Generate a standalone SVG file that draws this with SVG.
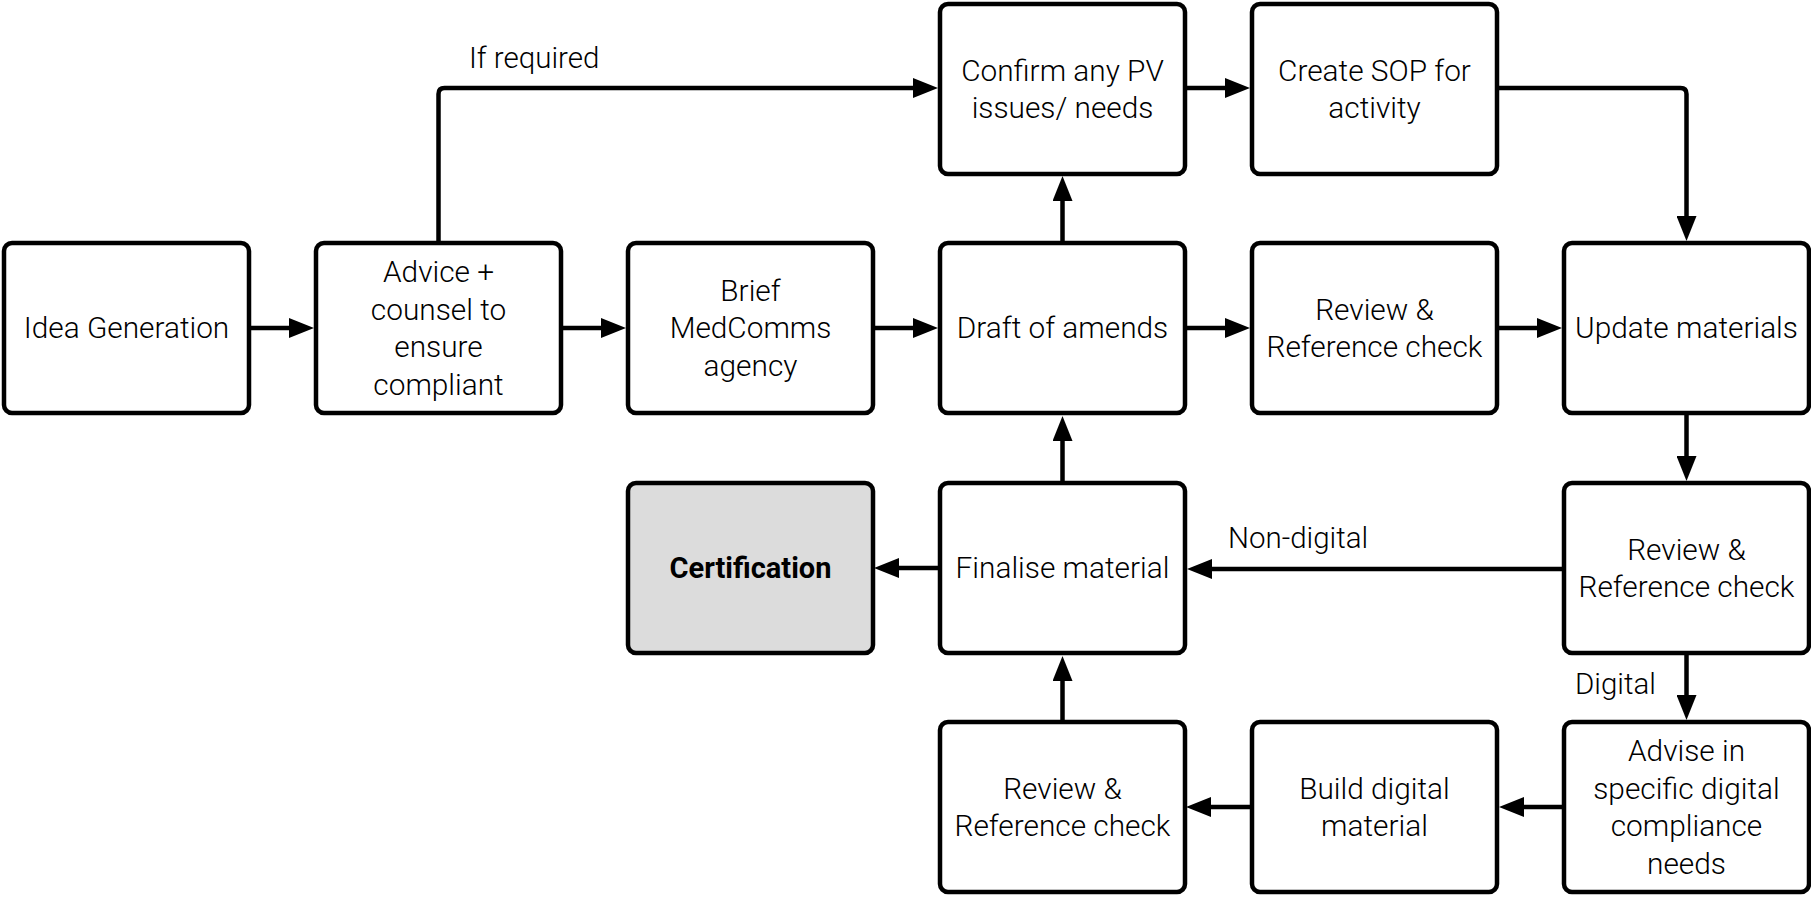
<svg xmlns="http://www.w3.org/2000/svg" width="1811" height="897" viewBox="0 0 1811 897">
<style>
.box{fill:#fff;stroke:#000;stroke-width:4.5}
.cert{fill:#dcdcdc;stroke:#000;stroke-width:4.5}
.t{font-family:Roboto,"Liberation Sans",Arial,sans-serif;font-weight:300;font-size:29.8px;fill:#000;text-anchor:middle}
.b{font-weight:700;font-size:29px}
.lbl{font-family:Roboto,"Liberation Sans",Arial,sans-serif;font-weight:300;font-size:29.5px;fill:#000}
.e{fill:none;stroke:#000;stroke-width:4.5;marker-end:url(#ah)}
</style>
<defs>
<marker id="ah" markerUnits="userSpaceOnUse" viewBox="0 0 25 20" refX="4" refY="10" markerWidth="25" markerHeight="20" orient="auto">
<path d="M0,0 L25,10 L0,20 Z" fill="#000"/>
</marker>
</defs>
<rect width="1811" height="897" fill="#fff"/>
<g id="connectors">
<path class="e" d="M248,328 H293"/>
<path class="e" d="M560,328 H605"/>
<path class="e" d="M872,328 H917"/>
<path class="e" d="M1184,328 H1229"/>
<path class="e" d="M1497,328 H1541"/>
<path class="e" d="M438.5,243 V94 Q438.5,88 444.5,88 H917"/>
<path class="e" d="M1062.5,243 V197"/>
<path class="e" d="M1184,88 H1229"/>
<path class="e" d="M1497,88 H1680.5 Q1686.5,88 1686.5,94 V220"/>
<path class="e" d="M1686.5,413 V460"/>
<path class="e" d="M1564,569 H1208"/>
<path class="e" d="M1686.5,653 V699"/>
<path class="e" d="M1564,807 H1520"/>
<path class="e" d="M1252,807 H1207"/>
<path class="e" d="M1062.5,722 V677"/>
<path class="e" d="M1062.5,483 V437"/>
<path class="e" d="M940,568 H895"/>
<text class="lbl" x="469" y="68">If required</text>
<text class="lbl" x="1228" y="548">Non-digital</text>
<text class="lbl" x="1575" y="694">Digital</text>
</g>
<g id="idea">
<rect class="box" x="4" y="243" width="245" height="170" rx="8"/>
<text class="t" x="126.5" y="338">Idea Generation</text>
</g>
<g id="advice">
<rect class="box" x="316" y="243" width="245" height="170" rx="8"/>
<text class="t" x="438.5" y="282">Advice +</text>
<text class="t" x="438.5" y="319.5">counsel to</text>
<text class="t" x="438.5" y="357">ensure</text>
<text class="t" x="438.5" y="394.5">compliant</text>
</g>
<g id="brief">
<rect class="box" x="628" y="243" width="245" height="170" rx="8"/>
<text class="t" x="750.5" y="300.5">Brief</text>
<text class="t" x="750.5" y="338">MedComms</text>
<text class="t" x="750.5" y="375.5">agency</text>
</g>
<g id="draft">
<rect class="box" x="940" y="243" width="245" height="170" rx="8"/>
<text class="t" x="1062.5" y="338">Draft of amends</text>
</g>
<g id="review1">
<rect class="box" x="1252" y="243" width="245" height="170" rx="8"/>
<text class="t" x="1374.5" y="319.5">Review &amp;</text>
<text class="t" x="1374.5" y="357">Reference check</text>
</g>
<g id="update">
<rect class="box" x="1564" y="243" width="245" height="170" rx="8"/>
<text class="t" x="1686.5" y="338">Update materials</text>
</g>
<g id="confirm">
<rect class="box" x="940" y="4" width="245" height="170" rx="8"/>
<text class="t" x="1062.5" y="80.5">Confirm any PV</text>
<text class="t" x="1062.5" y="118">issues/ needs</text>
</g>
<g id="sop">
<rect class="box" x="1252" y="4" width="245" height="170" rx="8"/>
<text class="t" x="1374.5" y="80.5">Create SOP for</text>
<text class="t" x="1374.5" y="118">activity</text>
</g>
<g id="certification">
<rect class="cert" x="628" y="483" width="245" height="170" rx="8"/>
<text class="t b" x="750.5" y="578">Certification</text>
</g>
<g id="finalise">
<rect class="box" x="940" y="483" width="245" height="170" rx="8"/>
<text class="t" x="1062.5" y="578">Finalise material</text>
</g>
<g id="review2">
<rect class="box" x="1564" y="483" width="245" height="170" rx="8"/>
<text class="t" x="1686.5" y="559.5">Review &amp;</text>
<text class="t" x="1686.5" y="597">Reference check</text>
</g>
<g id="review3">
<rect class="box" x="940" y="722" width="245" height="170" rx="8"/>
<text class="t" x="1062.5" y="798.5">Review &amp;</text>
<text class="t" x="1062.5" y="836">Reference check</text>
</g>
<g id="build">
<rect class="box" x="1252" y="722" width="245" height="170" rx="8"/>
<text class="t" x="1374.5" y="798.5">Build digital</text>
<text class="t" x="1374.5" y="836">material</text>
</g>
<g id="advise">
<rect class="box" x="1564" y="722" width="245" height="170" rx="8"/>
<text class="t" x="1686.5" y="761">Advise in</text>
<text class="t" x="1686.5" y="798.5">specific digital</text>
<text class="t" x="1686.5" y="836">compliance</text>
<text class="t" x="1686.5" y="873.5">needs</text>
</g>
</svg>
